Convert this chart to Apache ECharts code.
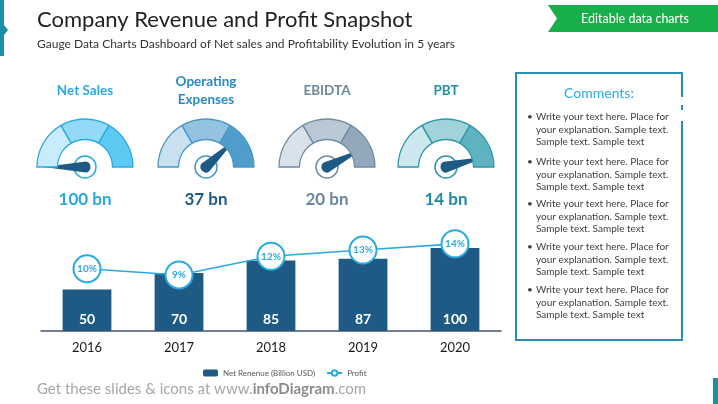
<!DOCTYPE html>
<html>
<head>
<meta charset="utf-8">
<script src="https://cdn.jsdelivr.net/npm/echarts@6/dist/echarts.min.js"></script>
<style>
html,body{margin:0;padding:0;background:#fff;}
#c{width:718px;height:404px;}
</style>
</head>
<body>
<div id="c"></div>
<script>
// ---- data ----
var years = ['2016', '2017', '2018', '2019', '2020'];
var netRevenue = [50, 70, 85, 87, 100];
var profitPct = [10, 9, 12, 13, 14];
var gaugeNames = ['Net Sales', 'Operating\nExpenses', 'EBIDTA', 'PBT'];
var gaugeValueLabels = ['100 bn', '37 bn', '20 bn', '14 bn'];
var gaugeNeedle = [0, 76, 85, 92];
var gaugeSegments = [1, 1, 1];
var commentText = 'Write your text here. Place for\nyour explanation. Sample text.\nSample text. Sample text';
var commentCount = 5;

// ---- styles ----
var FONT = 'Lato, "Open Sans", sans-serif';
var gaugeCenters = [[85, 167], [206, 167], [327, 167], [446, 167]];
var gaugeStyles = [
  {segs: ['#c8ecfb', '#94daf7', '#5ccaf3'], border: '#29abe2', title: '#2aa9e0', value: '#2aa9e0'},
  {segs: ['#c9e1ef', '#93c3e1', '#4f9dcb'], border: '#4a97c6', title: '#2a8ac4', value: '#1e5c86'},
  {segs: ['#d9e2ea', '#b8c8d5', '#93a9bb'], border: '#6e8ca4', title: '#6a879e', value: '#6b879d'},
  {segs: ['#cde8ec', '#a0d3da', '#5fb3c0'], border: '#2e97a8', title: '#1f93a6', value: '#1f8b9e'}
];
var needleColor = '#1f5a84';
var barColor = '#1f5a84';
var lineColor = '#29abe2';

var series = [];
gaugeNames.forEach(function (name, i) {
  var st = gaugeStyles[i];
  var pieData = gaugeSegments.map(function (v, k) {
    return {value: v, itemStyle: {color: st.segs[k], borderColor: st.border, borderWidth: 1.3}};
  });
  var total = gaugeSegments.reduce(function (a, b) { return a + b; }, 0);
  pieData.push({value: total, itemStyle: {color: 'rgba(0,0,0,0)', borderWidth: 0}});
  series.push({
    type: 'pie', silent: true, center: gaugeCenters[i], radius: [27.5, 48],
    startAngle: 180, clockwise: true, label: {show: false}, labelLine: {show: false},
    emphasis: {disabled: true}, animation: false, data: pieData
  });
  series.push({
    type: 'gauge', silent: true, center: gaugeCenters[i], radius: 48,
    startAngle: 180, endAngle: 0, min: 0, max: 100, animation: false,
    axisLine: {show: false}, splitLine: {show: false}, axisTick: {show: false}, axisLabel: {show: false},
    progress: {show: false},
    pointer: {
      icon: 'path://M5 0 L10 45 A5 5 0 0 1 0 45 Z',
      width: 11, length: 47, offsetCenter: [0, 5.5],
      itemStyle: {color: needleColor}
    },
    anchor: {show: true, size: 22, showAbove: false,
      itemStyle: {color: '#fff', borderColor: st.border, borderWidth: 1.5}},
    title: {show: true, offsetCenter: [0, -76], color: st.title, fontSize: 13.5, fontWeight: 'bold',
      fontFamily: FONT, lineHeight: 18},
    detail: {show: true, offsetCenter: [0, 33], color: st.value, fontSize: 17, fontWeight: 'bold',
      fontFamily: FONT, formatter: function () { return gaugeValueLabels[i]; }},
    data: [{value: gaugeNeedle[i], name: name}]
  });
});

series.push({
  name: 'Net Renenue (Billion USD)', type: 'bar', data: netRevenue, barWidth: '53%',
  itemStyle: {color: barColor}, silent: true,
  label: {show: true, position: 'insideBottom', distance: 5, color: '#fff', fontSize: 14,
    fontWeight: 'bold', fontFamily: FONT}
});
series.push({
  name: 'Profit', type: 'line', yAxisIndex: 1, data: profitPct, symbol: 'circle', symbolSize: 27,
  lineStyle: {color: lineColor, width: 1.6}, silent: true,
  itemStyle: {color: '#fff', borderColor: lineColor, borderWidth: 2},
  label: {show: true, position: 'inside', color: lineColor, fontSize: 10, fontWeight: 'bold',
    fontFamily: FONT, formatter: '{c}%'},
  z: 5
});

// comments text elements
var graphics = [
  {type: 'rect', shape: {x: 0, y: 0, width: 4, height: 56}, style: {fill: '#1a8fa5'}},
  {type: 'polygon', shape: {points: [[4, 25], [8, 30], [4, 35]]}, style: {fill: '#1a8fa5'}},
  {type: 'rect', shape: {x: 713, y: 378, width: 5, height: 26}, style: {fill: '#1a8fa5'}},
  {type: 'text', left: 37, top: 9, style: {text: 'Company Revenue and Profit Snapshot', fill: '#222',
    font: '22px ' + FONT}},
  {type: 'text', left: 37, top: 38, style: {text: 'Gauge Data Charts Dashboard of Net sales and Profitability Evolution in 5 years',
    fill: '#333', font: '12px ' + FONT}},
  {type: 'polygon', shape: {points: [[548, 5], [718, 5], [718, 32], [548, 32], [557, 18.5]]},
    style: {fill: '#19b04b'}},
  {type: 'text', x: 635, y: 19, style: {text: 'Editable data charts', fill: '#fff', font: '12.5px ' + FONT,
    align: 'center', verticalAlign: 'middle'}},
  {type: 'rect', shape: {x: 516, y: 73, width: 166, height: 267},
    style: {fill: '#fff', stroke: '#2a8fb5', lineWidth: 2}},
  {type: 'rect', shape: {x: 680, y: 97, width: 4, height: 24}, style: {fill: '#fff'}},
  {type: 'rect', shape: {x: 681, y: 105, width: 2, height: 5}, style: {fill: '#2a8fb5'}},
  {type: 'text', x: 599, y: 93, style: {text: 'Comments:', fill: '#29abe2', font: '14px ' + FONT,
    align: 'center', verticalAlign: 'middle'}},
  {type: 'text', left: 37, top: 382, style: {
    text: '{a|Get these slides & icons at www.}{b|infoDiagram}{a|.com}',
    rich: {a: {fill: '#a6a6a6', font: '15px ' + FONT}, b: {fill: '#8c8c8c', font: 'bold 15px ' + FONT}}}}
];
var bulletY = [117, 162, 204, 247, 290];
for (var k = 0; k < commentCount; k++) {
  graphics.push({type: 'text', x: 527, y: bulletY[k], style: {text: '•', fill: '#404040',
    font: '10px ' + FONT, verticalAlign: 'middle'}});
  graphics.push({type: 'text', x: 536, y: bulletY[k] - 6.25, style: {text: commentText, fill: '#404040',
    font: '10px ' + FONT, lineHeight: 12.5, verticalAlign: 'top'}});
}

var chart = echarts.init(document.getElementById('c'), null, {renderer: 'canvas'});
chart.setOption({
  backgroundColor: '#fff',
  animation: false,
  textStyle: {fontFamily: FONT},
  graphic: graphics,
  legend: {
    left: 198, top: 364, itemWidth: 15, itemHeight: 7, itemGap: 11,
    textStyle: {fontSize: 8, color: '#595959', fontFamily: FONT},
    data: ['Net Renenue (Billion USD)', 'Profit']
  },
  grid: {left: 41, right: 217, top: 231.4, bottom: 73},
  xAxis: {
    type: 'category', data: years,
    axisLine: {lineStyle: {color: '#44546a', width: 1.5}},
    axisTick: {show: false},
    axisLabel: {color: '#1a1a1a', fontSize: 13, margin: 10, fontFamily: FONT}
  },
  yAxis: [
    {type: 'value', min: 0, max: 120, show: false, splitLine: {show: false}},
    {type: 'value', min: 0, max: 16, show: false, splitLine: {show: false}}
  ],
  series: series
});
</script>
</body>
</html>
